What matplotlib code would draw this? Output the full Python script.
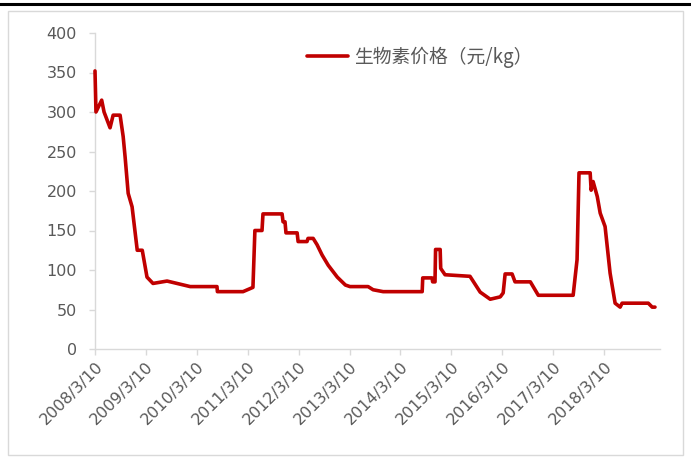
import pandas as pd
import matplotlib.pyplot as plt
from matplotlib.patches import Rectangle
from matplotlib.lines import Line2D

plt.rcParams['font.family'] = ['Noto Sans CJK SC', 'DejaVu Sans']

#### DATA
dates = ['2008-03-10', '2008-03-17', '2008-04-27', '2008-05-14', '2008-06-26',
         '2008-07-18',
         '2008-09-06', '2008-09-28', '2008-10-12', '2008-11-03', '2008-12-01',
         '2009-01-07', '2009-02-12', '2009-03-18', '2009-04-30', '2009-08-09',
         '2010-01-22', '2010-08-02', '2010-08-05', '2011-02-05', '2011-04-17',
         '2011-05-01', '2011-06-21', '2011-06-28', '2011-11-12', '2011-11-19',
         '2011-12-03', '2011-12-10', '2012-02-28', '2012-03-06', '2012-05-09',
         '2012-05-16', '2012-06-22', '2012-07-20', '2012-08-25', '2012-10-08',
         '2012-12-12', '2013-02-08', '2013-03-13', '2013-07-21', '2013-08-26',
         '2013-11-06', '2014-08-13', '2014-08-17', '2014-10-23', '2014-10-27',
         '2014-11-13', '2014-11-17', '2014-12-20', '2014-12-24', '2015-01-24',
         '2015-07-22', '2015-10-03', '2015-12-14', '2016-02-24', '2016-03-16',
         '2016-03-30', '2016-05-19', '2016-06-09', '2016-09-27', '2016-11-23',
         '2017-07-31', '2017-08-28', '2017-09-11', '2017-11-30', '2017-12-07',
         '2017-12-21', '2018-01-20', '2018-02-10', '2018-03-17', '2018-04-22',
         '2018-05-28', '2018-07-03', '2018-07-17', '2019-01-21', '2019-02-18',
         '2019-03-10']
price = [352, 300, 315, 300, 280,
         296,
         296, 269, 243, 197, 180,
         125, 125, 91, 83, 86,
         79, 79, 72.6, 72.6, 78,
         150, 150, 171, 171, 161,
         161, 147, 147, 136, 136,
         140, 140, 132, 119, 106,
         91, 81, 79, 79, 75,
         72.6, 72.6, 90, 90, 85,
         85, 126, 126, 102, 94,
         92, 72, 63, 66, 71,
         95, 95, 85, 85, 68,
         68, 113, 223, 223, 201,
         212, 193, 172, 155, 96,
         58, 53, 58, 58, 53,
         53]

tick_dates = ['2008-03-10', '2009-03-10', '2010-03-10', '2011-03-10', '2012-03-10',
              '2013-03-10', '2014-03-10', '2015-03-10', '2016-03-10', '2017-03-10',
              '2018-03-10']
tick_labels = ['2008/3/10', '2009/3/10', '2010/3/10', '2011/3/10', '2012/3/10',
               '2013/3/10', '2014/3/10', '2015/3/10', '2016/3/10', '2017/3/10',
               '2018/3/10']
y_ticks = [0, 50, 100, 150, 200, 250, 300, 350, 400]
series_name = '生物素价格（元/kg）'

x = pd.to_datetime(dates)

#### PLOTTING
fig = plt.figure(figsize=(6.91, 4.58), dpi=100)
ax = fig.add_axes([95 / 691, 1 - 349 / 458, (660 - 95) / 691, (349 - 33) / 458])

ax.plot(x, price, color='#C00000', linewidth=2.6, label=series_name, zorder=3,
        clip_on=False, solid_joinstyle='round', solid_capstyle='round')

ax.set_xlim(pd.Timestamp('2008-03-10'), pd.Timestamp('2019-04-15'))
ax.set_ylim(0, 400)
ax.set_yticks(y_ticks)
ax.set_xticks(pd.to_datetime(tick_dates))
ax.set_xticklabels(tick_labels, rotation=45, ha='right', rotation_mode='anchor')

for lab in ax.get_xticklabels() + ax.get_yticklabels():
    lab.set_family('DejaVu Sans')

for s in ['top', 'right']:
    ax.spines[s].set_visible(False)
for s in ['left', 'bottom']:
    ax.spines[s].set_color('#d9d9d9')
    ax.spines[s].set_linewidth(1)
ax.tick_params(axis='both', colors='#d9d9d9', labelcolor='#595959', labelsize=11.5,
               length=4, width=1)
ax.tick_params(axis='y', pad=9)
ax.tick_params(axis='x', pad=3)

ax.legend(loc='center left', bbox_to_anchor=((290 - 95) / 565, 1 - (57 - 33) / 316),
          frameon=False, fontsize=13.5, handlelength=2.2, handletextpad=0.3,
          labelcolor='#595959')

# outer frame and top rule
fig.patches.append(Rectangle((8 / 691, 1 - 455 / 458), 675 / 691, 444 / 458,
                             transform=fig.transFigure, fill=False,
                             edgecolor='#d9d9d9', linewidth=1))
fig.lines.append(Line2D([0, 1], [1 - 4 / 458, 1 - 4 / 458], transform=fig.transFigure,
                        color='black', linewidth=2.2))

plt.savefig('out.png', dpi=100)
